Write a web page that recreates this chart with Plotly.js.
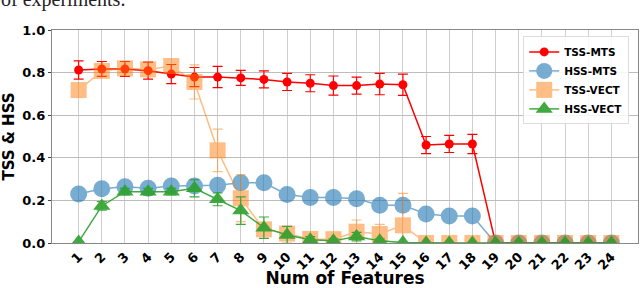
<!DOCTYPE html>
<html><head><meta charset="utf-8">
<script src="https://cdn.plot.ly/plotly-3.0.1.min.js"></script>
<style>html,body{margin:0;padding:0;background:#fff}#c{width:640px;height:288px}</style>
</head><body><div id="c"></div>
<script>
const features = [1,2,3,4,5,6,7,8,9,10,11,12,13,14,15,16,17,18,19,20,21,22,23,24];
const tickLabels = features.map(String);
const tssMts = [0.812,0.817,0.817,0.809,0.793,0.779,0.779,0.775,0.768,0.756,0.750,0.739,0.739,0.746,0.743,0.460,0.465,0.465,0,0,0,0,0,0];
const tssMtsErr = [0.043,0.035,0.035,0.040,0.045,0.045,0.050,0.035,0.040,0.040,0.040,0.045,0.040,0.050,0.050,0.040,0.040,0.045,0,0,0,0,0,0];
const hssMts = [0.230,0.255,0.264,0.257,0.268,0.268,0.271,0.283,0.283,0.228,0.214,0.214,0.208,0.177,0.177,0.136,0.127,0.127,0,0,0,0,0,0];
const hssMtsErr = [0.015,0.015,0.015,0.012,0.012,0.015,0.015,0.015,0.015,0.012,0.015,0.015,0.015,0.012,0.015,0.012,0.012,0.012,0,0,0,0,0,0];
const tssVect = [0.718,0.808,0.820,0.815,0.831,0.756,0.435,0.210,0.064,0.044,0.019,0.018,0.053,0.042,0.083,0,0,0,0,0,0,0,0,0];
const tssVectErr = [0.03,0.03,0.03,0.03,0.03,0.08,0.10,0.11,0.03,0.02,0.01,0.01,0.055,0.045,0.15,0,0,0,0,0,0,0,0,0];
const hssVect = [0.005,0.174,0.241,0.241,0.241,0.257,0.205,0.152,0.072,0.038,0.015,0.010,0.030,0.010,0.002,0,0,0,0,0,0,0,0,0];
const hssVectErr = [0,0.02,0.015,0.015,0.015,0.04,0.03,0.065,0.05,0.04,0.015,0.01,0.02,0.01,0,0,0,0,0,0,0,0,0,0];

const F = 'DejaVu Sans, sans-serif';
const traces = [
  {x:features,y:tssMts,name:'<b>TSS-MTS</b>',mode:'lines+markers',
   line:{color:'#ff0000',width:1.5},marker:{color:'#ff0000',size:9,symbol:'circle'},
   error_y:{type:'data',array:tssMtsErr,color:'#ff0000',thickness:1.2,width:5}},
  {x:features,y:hssMts,name:'<b>HSS-MTS</b>',mode:'lines+markers',opacity:0.6,
   line:{color:'#1f77b4',width:1.5},marker:{color:'#1f77b4',size:17,symbol:'circle'},
   error_y:{type:'data',array:hssMtsErr,color:'#1f77b4',thickness:1.2,width:5}},
  {x:features,y:tssVect,name:'<b>TSS-VECT</b>',mode:'lines+markers',opacity:0.5,
   line:{color:'#ff7f0e',width:1.5},marker:{color:'#ff7f0e',size:16,symbol:'square'},
   error_y:{type:'data',array:tssVectErr,color:'#ff7f0e',thickness:1.2,width:5}},
  {x:features,y:hssVect,name:'<b>HSS-VECT</b>',mode:'lines+markers',opacity:0.9,
   line:{color:'#2ca02c',width:1.5},marker:{color:'#2ca02c',size:15,symbol:'triangle-up'},
   error_y:{type:'data',array:hssVectErr,color:'#2ca02c',thickness:1.2,width:5}}
];
const layout = {
  width:640,height:288,
  margin:{l:52,r:2,t:30,b:45},
  paper_bgcolor:'#fff',plot_bgcolor:'#fff',
  showlegend:true,
  legend:{x:0.985,y:0.97,xanchor:'right',yanchor:'top',bgcolor:'rgba(255,255,255,0.85)',
    bordercolor:'#ddd',borderwidth:1,font:{family:F,size:10.5,color:'#000'},
    tracegroupgap:0,itemwidth:30},
  xaxis:{range:[-0.15,25.15],tickvals:features,ticktext:tickLabels,tickangle:-45,
    tickfont:{family:F,size:13,color:'#000',weight:'bold'},
    showgrid:true,gridcolor:'#cfcfcf',gridwidth:1,zeroline:false,
    showline:true,mirror:true,linecolor:'#888',linewidth:1.2,
    ticks:'',ticklen:0,
    title:{text:'<b>Num of Features</b>',font:{family:F,size:17,color:'#000'},standoff:6}},
  yaxis:{range:[0,1],tickvals:[0,0.2,0.4,0.6,0.8,1.0],ticktext:['0.0','0.2','0.4','0.6','0.8','1.0'],
    tickfont:{family:F,size:13,color:'#000',weight:'bold'},
    showgrid:true,gridcolor:'#bdbdbd',gridwidth:1,zeroline:false,
    showline:true,mirror:true,linecolor:'#888',linewidth:1.2,
    ticks:'outside',ticklen:3,tickcolor:'#444',
    title:{text:'<b>TSS & HSS</b>',font:{family:F,size:15,color:'#000'},standoff:6}},
  annotations:[{text:'of experiments.',xref:'paper',yref:'paper',x:-0.088,y:1.085,
    xanchor:'left',yanchor:'bottom',showarrow:false,borderpad:0,
    font:{family:'Liberation Serif, serif',size:20,color:'#222'}}]
};
Plotly.newPlot('c',traces,layout,{staticPlot:true,displayModeBar:false});
</script></body></html>
